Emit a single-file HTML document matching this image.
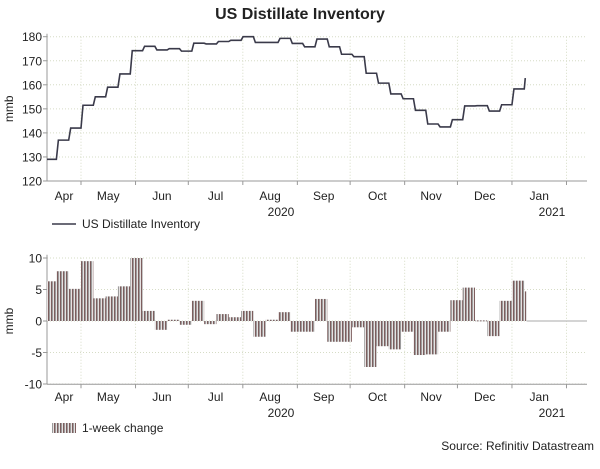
<!DOCTYPE html>
<html><head><meta charset="utf-8"><style>
body{margin:0;background:#fff;}
svg text{font-family:"Liberation Sans",Arial,sans-serif;fill:#222;}
</style></head><body>
<svg id="c" width="600" height="464" xmlns="http://www.w3.org/2000/svg">
<defs>
<pattern id="stripe" width="3" height="4" patternUnits="userSpaceOnUse">
<rect x="0" y="0" width="3" height="4" fill="#e6e2e2"/>
<rect x="0" y="0" width="1" height="4" fill="#7d5e5e"/>
<rect x="1" y="0" width="1" height="4" fill="#9c9c9c"/>
</pattern>
</defs>
<text x="300" y="19" text-anchor="middle" font-size="16" font-weight="bold">US Distillate Inventory</text>
<g id="top"></g>
<g id="bot"></g>
<line x1="52" y1="224" x2="76" y2="224" stroke="#3a3a4a" stroke-width="1.6"/>
<text x="82" y="228" font-size="12">US Distillate Inventory</text>
<rect x="52" y="423" width="24" height="10" fill="url(#stripe)"/>
<text x="82" y="432" font-size="12">1-week change</text>
<text x="594" y="450" font-size="12" text-anchor="end">Source: Refinitiv Datastream</text>
</svg>
<script>
const inventory=[129,137,142,151.5,155,159,164.5,174.2,176,174.5,175,174,177.3,177,178,178.5,180,177.6,177.6,179.3,177.2,175.8,179,175.8,172.7,171.7,164.8,160.7,156.2,154.2,149.4,143.7,142.5,145.5,151.2,151.3,149.1,151.7,158.3,162.8];
const changes=[6.3,7.9,5.1,9.5,3.6,3.9,5.5,10,1.6,-1.4,0.2,-0.6,3.2,-0.5,1.1,0.6,1.6,-2.5,0.2,1.4,-1.7,-1.7,3.5,-3.3,-3.3,-1.0,-7.3,-4,-4.5,-1.7,-5.4,-5.3,-1.7,3.3,5.3,0.1,-2.4,3.2,6.4,4.7];
const topTicks=[120,130,140,150,160,170,180];
const botTicks=[-10,-5,0,5,10];
const monthLabels=["Apr","May","Jun","Jul","Aug","Sep","Oct","Nov","Dec","Jan"];
const monthStartDays=[-30,0,31,61,92,123,153,184,214,245,276];
const firstWeekDay=-21;
const NS="http://www.w3.org/2000/svg";
const L=47,R=587;
function xd(d){return 81+d*1.759;}
function mk(p,tag,attrs){const e=document.createElementNS(NS,tag);for(const k in attrs)e.setAttribute(k,attrs[k]);p.appendChild(e);return e;}
function axes(g,yT,yB,ticks,yfn,nameP,monY,yearY){
  const gx=[];
  monthStartDays.forEach(d=>{const x=xd(d);if(x>L&&x<R)gx.push(x);});
  gx.forEach(x=>{const l=mk(g,'line',{x1:x,y1:yT,x2:x,y2:yB,stroke:'#d6dcc6','stroke-dasharray':'1,2'});
    
    });
  ticks.forEach(t=>{const y=yfn(t);
    const l=mk(g,'line',{x1:L,y1:y,x2:R,y2:y,stroke:'#d6dcc6','stroke-dasharray':'1,2'});
    
    
    const tk=mk(g,'line',{x1:L-4,y1:y,x2:L,y2:y,stroke:'#999'});
    
    
    const tx=mk(g,'text',{x:L-5,y:y+4.5,'font-size':12,'text-anchor':'end'});tx.textContent=t;
    
    });
  const ax=mk(g,'line',{x1:L,y1:yT-3,x2:L,y2:yB,stroke:'#999'});
  
  
  const bx=mk(g,'line',{x1:L,y1:yB,x2:R,y2:yB,stroke:'#999'});
  
  
  gx.forEach(x=>{const t=mk(g,'line',{x1:x,y1:yB,x2:x,y2:yB+4,stroke:'#999'});
    
    });
  monthLabels.forEach((m,i)=>{const a=Math.max(L,xd(monthStartDays[i])),b=Math.min(R,xd(monthStartDays[i+1]));
    const t=mk(g,'text',{x:(a+b)/2,y:monY,'font-size':12,'text-anchor':'middle'});t.textContent=m;
    
    });
  [["2020",281],["2021",552]].forEach(([s,x])=>{const t=mk(g,'text',{x:x,y:yearY,'font-size':12,'text-anchor':'middle'});t.textContent=s;
    
    });
  const yt=mk(g,'text',{x:0,y:0,'font-size':12,'text-anchor':'middle',transform:`translate(13,${(yT+yB)/2}) rotate(-90)`});yt.textContent='mmb';
  
  
}
// top
const gT=document.getElementById('top');
const yTop=v=>36.7+(180-v)*2.405;
axes(gT,36.7,181,topTicks,yTop,'top',200,216);
let pts=[];
inventory.forEach((v,i)=>{const x0=xd(firstWeekDay+7*i),x1=xd(firstWeekDay+7*(i+1));
  if(i<inventory.length-1){pts.push([Math.max(L,x0+2),yTop(v)],[x1,yTop(v)]);}else{pts.push([x0+1,yTop(v)]);}});
const pl=mk(gT,'polyline',{points:pts.map(p=>p.join(',')).join(' '),fill:'none',stroke:'#3a3a4a','stroke-width':1.6});


// bottom
const gB=document.getElementById('bot');
const yBot=v=>321+(-v)*6.3;
axes(gB,257.7,384.3,botTicks,yBot,'bottom',401,417);
changes.forEach((v,i)=>{let x0=xd(firstWeekDay+7*i),x1=xd(firstWeekDay+7*(i+1));
  if(i===changes.length-1)x1=x0+2;
  x0=Math.max(L,x0);
  const y0=yBot(Math.max(0,v)),h=Math.abs(yBot(v)-yBot(0));
  const r=mk(gB,'rect',{x:x0,y:y0,width:x1-x0,height:Math.max(h,1),fill:'url(#stripe)'});
  
  });
const zl=mk(gB,'line',{x1:xd(firstWeekDay+7*changes.length)-10,y1:321,x2:R,y2:321,stroke:'#aaa'});


</script>
</body></html>
